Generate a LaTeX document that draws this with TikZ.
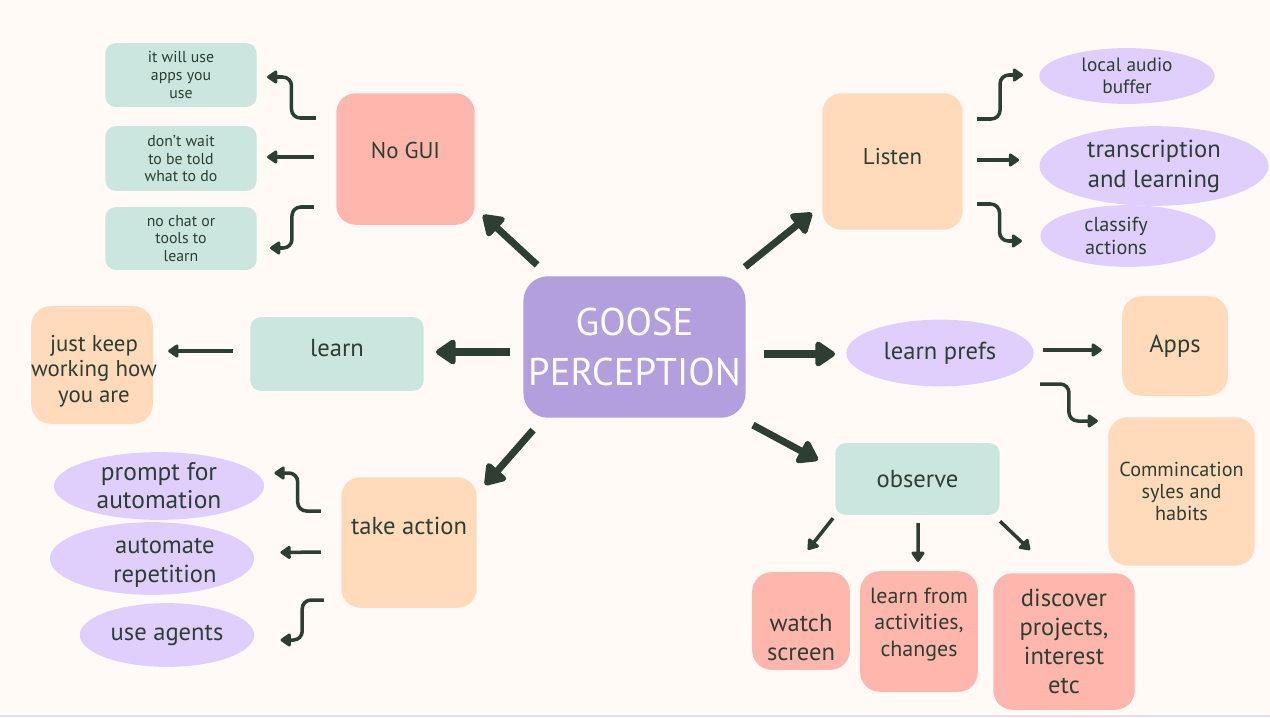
\documentclass[tikz,border=0pt]{standalone}
\usepackage{fontspec}
\setmainfont{PT Sans}
\usetikzlibrary{arrows.meta}
\usetikzlibrary{shapes.geometric, calc}

\definecolor{paper}{HTML}{FFFAF6}
\definecolor{ink}{HTML}{2C3F32}
\definecolor{mint}{HTML}{CBE6DF}
\definecolor{salmon}{HTML}{FFB6AD}
\definecolor{peach}{HTML}{FFDBBC}
\definecolor{lilac}{HTML}{E0CFFD}
\definecolor{grape}{HTML}{B39FDD}
\definecolor{edge}{HTML}{DDE4EC}

\newcommand{\fsz}[2]{\fontsize{#1}{#2}\selectfont}

\begin{document}
\begin{tikzpicture}[
	x=0.02cm, y=-0.02cm,
	card/.style={ rectangle, inner sep=0pt, text=ink, align=center, rounded corners=6pt },
	mintcard/.style={ card, fill=mint },
	salmoncard/.style={ card, fill=salmon, rounded corners=11pt },
	peachcard/.style={ card, fill=peach, rounded corners=11pt },
	blob/.style={ ellipse, inner sep=0pt, fill=lilac, text=ink, align=center },
	tag/.style={ text=ink, align=center },
	bigarrow/.style={ draw=ink, line width=4pt, -{Triangle[length=12.5pt, width=16pt, round]} },
	thinarrow/.style={ draw=ink, line width=2pt, -{Triangle[length=6.5pt, width=8.5pt, round]} },
	elbow/.style={ thinarrow, rounded corners=5pt,
		to path={ -| ($(\tikztostart)!0.5!(\tikztotarget)$) |- (\tikztotarget) } },
]

	\def\px{0.567pt}

	\fill[ paper ] (0,0) rectangle (1270,717);
	\useasboundingbox (0,0) rectangle (1270,717);
	\draw[ edge, line width=1.2pt ] (0,716) -- (1270,716);

	% centre
	\node[ card, fill=grape, text=white, rounded corners=14pt, minimum width=223*\px, minimum height=142*\px, font=\fsz{22}{28} ] (goose) at (634.5,347) {GOOSE\\PERCEPTION};

	% no gui branch
	\node[ salmoncard, minimum width=139*\px, minimum height=132*\px,
		label={[tag,font=\fsz{13}{15},yshift=9*\px]center:No GUI} ] (nogui) at (405.5,159) {};
	\node[ mintcard, minimum width=152*\px, minimum height=64*\px, font=\fsz{9}{10} ] (useapps) at (181,75) {it will use\\apps you\\use};
	\node[ mintcard, minimum width=152*\px, minimum height=65*\px, font=\fsz{9}{10} ] (nowait) at (181,158.5) {don't wait\\to be told\\what to do};
	\node[ mintcard, minimum width=152*\px, minimum height=63*\px, font=\fsz{9}{10} ] (nochat) at (181,238.5) {no chat or\\tools to\\learn};

	% listen branch
	\node[ peachcard, minimum width=141*\px, minimum height=137*\px,
		label={[tag,font=\fsz{13}{15},yshift=5*\px]center:Listen} ] (listen) at (892.5,161.5) {};
	\node[ blob, minimum width=176*\px, minimum height=56*\px, font=\fsz{11}{12.5} ] (buffer) at (1127,76) {local audio\\buffer};
	\node[ blob, minimum width=230*\px, minimum height=80*\px, font=\fsz{14}{17} ] (transcribe) at (1154,166) {transcription\\and learning};
	\node[ blob, minimum width=176*\px, minimum height=62*\px,
		label={[tag,font=\fsz{11.5}{13},xshift=-12*\px]center:classify\\actions} ] (classify) at (1128,236) {};

	% learn branch
	\node[ mintcard, minimum width=174*\px, minimum height=74*\px,
		label={[tag,font=\fsz{14}{16},yshift=6*\px]center:learn} ] (learn) at (337,354) {};
	\node[ peachcard, minimum width=122*\px, minimum height=118*\px,
		label={[tag,font=\fsz{13}{14.5},yshift=-6*\px,xshift=2*\px]center:just keep\\working how\\you are} ] (keepon) at (92,365) {};

	% take action branch
	\node[ peachcard, minimum width=136*\px, minimum height=131*\px,
		label={[tag,font=\fsz{14}{16},yshift=17*\px]center:take action} ] (act) at (409,542.5) {};
	\node[ blob, minimum width=211*\px, minimum height=68*\px, font=\fsz{14.5}{16} ] (prompt) at (159,486) {prompt for\\automation};
	\node[ blob, minimum width=205*\px, minimum height=73*\px,
		label={[tag,font=\fsz{14}{16.5},xshift=13*\px,yshift=-4*\px]center:automate\\repetition} ] (repeat) at (152,558.5) {};
	\node[ blob, minimum width=175*\px, minimum height=64*\px, font=\fsz{14}{16} ] (agents) at (167,635) {use agents};

	% prefs branch
	\node[ blob, minimum width=188*\px, minimum height=67*\px, font=\fsz{14}{16} ] (prefs) at (940,353) {learn prefs};
	\node[ peachcard, minimum width=106*\px, minimum height=100*\px, font=\fsz{14}{16} ] (apps) at (1175,346) {Apps};
	\node[ peachcard, minimum width=147*\px, minimum height=149*\px, font=\fsz{11.5}{12.5} ] (habits) at (1181.5,491.5) {Commincation\\syles and\\habits};

	% observe branch
	\node[ mintcard, minimum width=165*\px, minimum height=72*\px, font=\fsz{14}{16} ] (observe) at (917.5,479) {observe};
	\node[ salmoncard, minimum width=98*\px, minimum height=98*\px,
		label={[tag,font=\fsz{14}{16.5},yshift=-17*\px]center:watch\\screen} ] (watch) at (801,621) {};
	\node[ salmoncard, minimum width=118*\px, minimum height=121*\px,
		label={[tag,font=\fsz{12.5}{15},yshift=7*\px]center:learn from\\activities,\\changes} ] (activity) at (919,631.5) {};
	\node[ salmoncard, minimum width=142*\px, minimum height=137*\px, font=\fsz{14}{16.5} ] (discover) at (1064,641.5) {discover\\projects,\\interest\\etc};

	% arrows out of the centre
	\draw[ bigarrow ] ([shift={(14,-11)}]goose.north west) -- ([shift={(8,-10)}]nogui.south east);
	\draw[ bigarrow ] ([shift={(-1,-9)}]goose.north east) -- ([shift={(-10,-17)}]listen.south west);
	\draw[ bigarrow ] ([shift={(-13,5)}]goose.west) -- ([shift={(12,-2)}]learn.east);
	\draw[ bigarrow ] ([shift={(18,7)}]goose.east) -- ([shift={(-11,1)}]prefs.west);
	\draw[ bigarrow ] ([shift={(10,12)}]goose.south west) -- ([shift={(8,8)}]act.north east);
	\draw[ bigarrow ] ([shift={(7,7)}]goose.south east) -- ([shift={(-17,-19)}]observe.west);

	% no gui
	\draw[ elbow ] ([shift={(-20,-41)}]nogui.west) to ([shift={(10,2)}]useapps.east);
	\draw[ thinarrow ] ([shift={(-22,-2)}]nogui.west) -- ([shift={(10,-1.5)}]nowait.east);
	\draw[ elbow ] ([shift={(-22,48)}]nogui.west) to ([shift={(13,9.5)}]nochat.east);

	% listen
	\draw[ elbow ] ([shift={(14,-42.5)}]listen.east) to ([shift={(-16,-1)}]buffer.west);
	\draw[ thinarrow ] ([shift={(14,-1.5)}]listen.east) -- ([shift={(-20,-6)}]transcribe.west);
	\draw[ elbow ] ([shift={(14,42.5)}]listen.east) to ([shift={(-18,5)}]classify.west);

	% learn
	\draw[ thinarrow ] ([shift={(-17,-3)}]learn.west) -- ([shift={(15,-14)}]keepon.east);

	% take action
	\draw[ elbow ] ([shift={(-20,-31.5)}]act.west) to ([shift={(10,-13)}]prompt.east);
	\draw[ thinarrow ] ([shift={(-20,9.5)}]act.west) -- ([shift={(26,-6)}]repeat.east);
	\draw[ elbow ] ([shift={(-17,57.5)}]act.west) to ([shift={(26,5)}]agents.east);

	% prefs
	\draw[ thinarrow ] ([shift={(9,-3)}]prefs.east) -- ([shift={(-20,4)}]apps.west);
	\draw[ elbow ] ([shift={(6,31)}]prefs.east) to ([shift={(-10,-70.5)}]habits.west);

	% observe
	\draw[ thinarrow ] ([shift={(-2,3)}]observe.south west) -- ([shift={(7,-22)}]watch.north);
	\draw[ thinarrow ] ([shift={(0.5,8)}]observe.south) -- ([shift={(-1,-9)}]activity.north);
	\draw[ thinarrow ] ([shift={(0,6)}]observe.south east) -- ([shift={(-34,-23)}]discover.north);

\end{tikzpicture}
\end{document}
